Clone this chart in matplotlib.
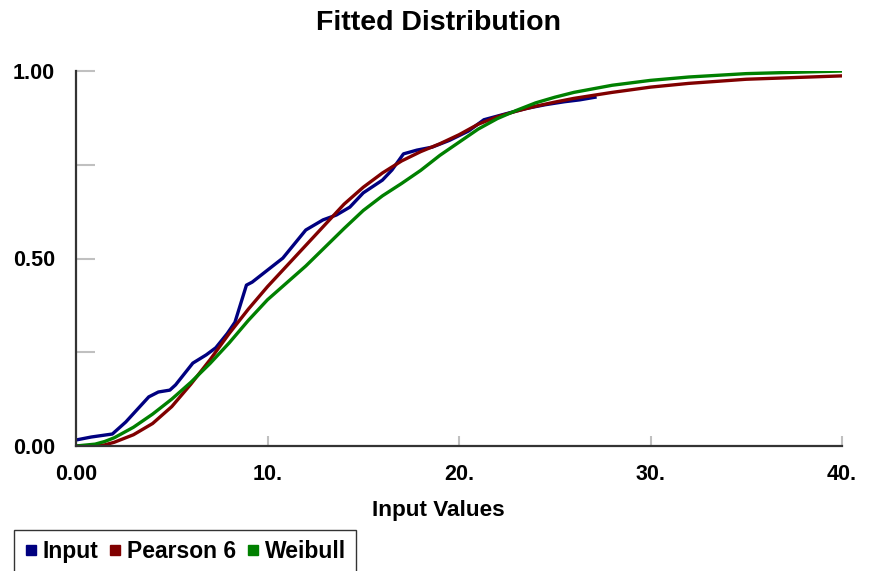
import matplotlib
matplotlib.use("Agg")
import matplotlib.pyplot as plt
from matplotlib.lines import Line2D

input_x = [0, 0.8, 1.9, 2.6, 3.8, 4.3, 4.9, 5.2, 6.1, 6.8, 7.3, 7.9, 8.3, 8.9, 9.2,
           9.8, 10.8, 12.0, 12.9, 13.6, 14.3, 15.0, 16.0, 16.5, 17.1, 17.8, 18.6,
           19.5, 20.5, 21.3, 22.6, 23.5, 24.5, 25.5, 26.3, 27.1]
input_y = [0.016, 0.024, 0.032, 0.064, 0.131, 0.144, 0.149, 0.163, 0.221, 0.243,
           0.262, 0.300, 0.330, 0.429, 0.437, 0.461, 0.501, 0.576, 0.603, 0.616,
           0.637, 0.675, 0.709, 0.736, 0.779, 0.789, 0.797, 0.815, 0.840, 0.870,
           0.888, 0.900, 0.910, 0.918, 0.923, 0.930]

fit_x = [0, 1, 1.5, 2, 3, 4, 5, 6, 7, 8, 9, 10, 11, 12, 13, 14, 15, 16, 17, 18,
         19, 20, 21, 22, 23, 24, 25, 26, 28, 30, 32, 35, 40]
pearson_y = [0, 0, 0.003, 0.01, 0.03, 0.06, 0.105, 0.165, 0.23, 0.30, 0.365, 0.425,
             0.48, 0.535, 0.59, 0.645, 0.69, 0.728, 0.76, 0.785, 0.806, 0.83, 0.858,
             0.878, 0.893, 0.906, 0.917, 0.927, 0.943, 0.957, 0.967, 0.978, 0.987]
weibull_y = [0, 0.005, 0.012, 0.022, 0.05, 0.085, 0.125, 0.17, 0.22, 0.275, 0.335,
             0.39, 0.435, 0.48, 0.53, 0.58, 0.628, 0.667, 0.70, 0.735, 0.775, 0.81,
             0.845, 0.873, 0.895, 0.915, 0.93, 0.943, 0.962, 0.975, 0.984, 0.993, 1.0]

series_names = ["Input", "Pearson 6", "Weibull"]
colors = ["#000080", "#800000", "#008000"]

plt.rcParams['font.family'] = ['Liberation Sans', 'DejaVu Sans']

fig = plt.figure(figsize=(8.69, 5.71), dpi=100)
ax = fig.add_axes([76/869, 1 - 446/571, (842 - 76)/869, (446 - 71)/571])

ax.plot(input_x, input_y, color=colors[0], lw=2.4)
ax.plot(fit_x, pearson_y, color=colors[1], lw=2.4)
ax.plot(fit_x, weibull_y, color=colors[2], lw=2.4)

ax.set_xlim(0, 40)
ax.set_ylim(0, 1)
for s in ["top", "right"]:
    ax.spines[s].set_visible(False)
for s in ["left", "bottom"]:
    ax.spines[s].set_color("#333333")
    ax.spines[s].set_linewidth(1.6)

ax.set_xticks([0, 10, 20, 30, 40])
ax.set_xticklabels(["0.00", "10.", "20.", "30.", "40."])
ax.set_yticks([0, 0.5, 1.0])
ax.set_yticklabels(["0.00", "0.50", "1.00"])
ax.set_yticks([0.25, 0.75], minor=True)
ax.tick_params(axis="x", direction="in", length=7, width=1.5, color="#c0c0c0",
               pad=13, labelsize=15.5)
ax.tick_params(axis="y", which="both", direction="in", length=14, width=1.5,
               color="#c0c0c0", pad=15, labelsize=15.5)
for lab in ax.get_xticklabels() + ax.get_yticklabels():
    lab.set_fontweight("bold")

ax.set_xlabel("Input Values", fontsize=16.2, fontweight="bold")
ax.xaxis.set_label_coords((438 - 76) / (842 - 76), -0.145)

fig.text(439/869, 1 - 23/571, "Fitted Distribution", ha="center", va="center",
         fontsize=20.5, fontweight="bold")

handles = [Line2D([], [], ls="none", marker="s", markersize=7.5, color=c)
           for c in colors]
leg = fig.legend(handles, series_names, loc="upper left",
                 bbox_to_anchor=(14/869, 1 - 530/571), borderaxespad=0,
                 ncol=3, frameon=True, fancybox=False, edgecolor="black",
                 handlelength=0.55, handletextpad=0.25, columnspacing=0.45,
                 borderpad=0.45, prop={"size": 16.5, "weight": "bold"})
leg.get_frame().set_linewidth(1.0)

fig.savefig("out.png", dpi=100)
